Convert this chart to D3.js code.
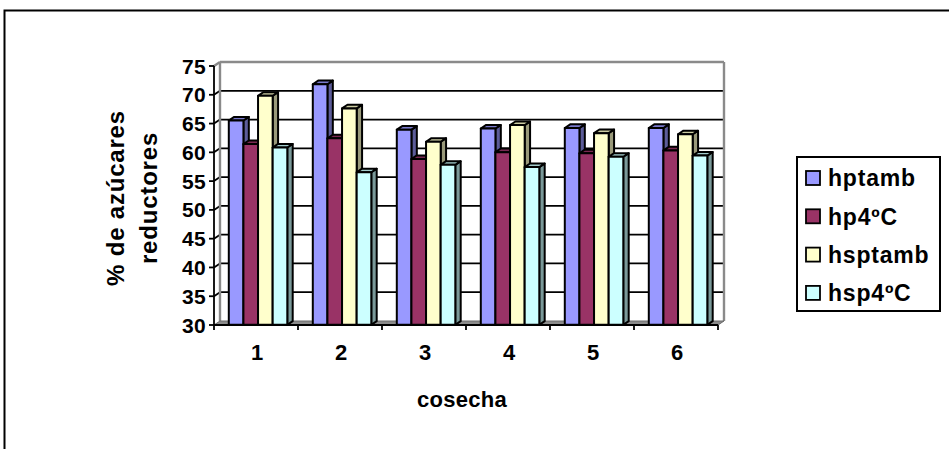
<!DOCTYPE html>
<html>
<head>
<meta charset="utf-8">
<script src="https://cdnjs.cloudflare.com/ajax/libs/d3/7.8.5/d3.min.js"></script>
<style>
  body { margin: 0; background: #fff; }
  svg { display: block; }
  text { font-family: Arial, "Liberation Sans", sans-serif; font-weight: bold; fill: #000; }
</style>
</head>
<body>
<svg id="chart" width="949" height="449"></svg>
<script>
// Harvest categories and the four treatment series (% reducing sugars)
const categories = ["1", "2", "3", "4", "5", "6"];
const seriesNames = ["hptamb", "hp4ºC", "hsptamb", "hsp4ºC"];
const hptamb  = [65.5, 71.8, 63.9, 64.1, 64.2, 64.2];
const hp4C    = [61.4, 62.4, 58.8, 60.0, 59.8, 60.3];
const hsptamb = [69.8, 67.6, 61.8, 64.7, 63.3, 63.1];
const hsp4C   = [60.8, 56.5, 57.8, 57.4, 59.2, 59.4];
const yTicks  = [30, 35, 40, 45, 50, 55, 60, 65, 70, 75];
const seriesColors = ["#9999FF", "#993366", "#FFFFCC", "#CCFFFF"];

const seriesValues = [hptamb, hp4C, hsptamb, hsp4C];

const svg = d3.select("#chart");

// outer chart frame
svg.append("rect")
  .attr("x", 4.5).attr("y", 10.5)
  .attr("width", 1000).attr("height", 500)
  .attr("fill", "#fff").attr("stroke", "#000").attr("stroke-width", 2);

// front-plane scales
const x = d3.scaleBand().domain(categories).range([214, 718]);
const y = d3.scaleLinear().domain([30, 75]).range([325, 66]);
const xs = d3.scaleBand().domain(seriesNames).range([14.5, 73]);

// depth vector of the 3D box
const DX = 6, DY = -4;
const P = (px, v, d) => [px + DX * d, y(v) + DY * d];
const poly = pts => "M" + pts.map(p => p.join(",")).join("L") + "Z";

const x0 = x.range()[0], x1 = x.range()[1];
const vMin = y.domain()[0], vMax = y.domain()[1];

// back wall
svg.append("path")
  .attr("d", poly([P(x0, vMin, 1), P(x1, vMin, 1), P(x1, vMax, 1), P(x0, vMax, 1)]))
  .attr("fill", "#fff").attr("stroke", "none");

// left side wall
svg.append("path")
  .attr("d", poly([P(x0, vMin, 0), P(x0, vMin, 1), P(x0, vMax, 1), P(x0, vMax, 0)]))
  .attr("fill", "#fff").attr("stroke", "none");

// gridlines on back wall and side wall
const grid = svg.append("g");
yTicks.filter(t => t > vMin && t < vMax).forEach(t => {
  const a = P(x0, t, 1), b = P(x1, t, 1), c = P(x0, t, 0);
  grid.append("line").attr("x1", a[0]).attr("y1", a[1]).attr("x2", b[0]).attr("y2", b[1])
    .attr("stroke", "#000").attr("stroke-width", 1.8);
  grid.append("line").attr("x1", c[0]).attr("y1", c[1]).attr("x2", a[0]).attr("y2", a[1])
    .attr("stroke", "#000").attr("stroke-width", 1.8);
});

// wall edges (gray)
const edges = [
  [P(x0, vMax, 0), P(x0, vMax, 1)],
  [P(x0, vMax, 1), P(x1, vMax, 1)],
  [P(x0, vMax, 1), P(x0, vMin, 1)],
  [P(x1, vMax, 1), P(x1, vMin, 1)]
];
edges.forEach(([a, b]) => {
  svg.append("line").attr("x1", a[0]).attr("y1", a[1]).attr("x2", b[0]).attr("y2", b[1])
    .attr("stroke", "#8a8a8a").attr("stroke-width", 2.4);
});

// floor
svg.append("path")
  .attr("d", poly([P(x0, vMin, 0), P(x1, vMin, 0), P(x1, vMin, 1), P(x0, vMin, 1)]))
  .attr("fill", "#8c8c8c").attr("stroke", "#6a6a6a").attr("stroke-width", 1);

// 3D bars
const shade = (c, k) => { const h = d3.rgb(c); return d3.rgb(h.r * k, h.g * k, h.b * k).formatHex(); };
const dFront = 0.05, dBack = 0.95;
const bars = svg.append("g");
categories.forEach((cat, ci) => {
  seriesNames.forEach((s, si) => {
    const v = seriesValues[si][ci];
    const L = x(cat) + xs(s), R = L + xs.bandwidth();
    const col = seriesColors[si];
    const g = bars.append("g").attr("stroke", "#000").attr("stroke-width", 2).attr("stroke-linejoin", "round");
    // right side face
    g.append("path").attr("d", poly([P(R, vMin, dFront), P(R, vMin, dBack), P(R, v, dBack), P(R, v, dFront)]))
      .attr("fill", shade(col, 0.6));
    // top face
    g.append("path").attr("d", poly([P(L, v, dFront), P(R, v, dFront), P(R, v, dBack), P(L, v, dBack)]))
      .attr("fill", shade(col, 0.8));
    // front face
    g.append("path").attr("d", poly([P(L, vMin, dFront), P(R, vMin, dFront), P(R, v, dFront), P(L, v, dFront)]))
      .attr("fill", col);
  });
});

// value axis (front)
svg.append("line").attr("x1", x0).attr("y1", y(vMin)).attr("x2", x0).attr("y2", y(vMax))
  .attr("stroke", "#000").attr("stroke-width", 1.8);
const yAxis = svg.append("g");
yTicks.forEach(t => {
  yAxis.append("line").attr("x1", x0 - 5).attr("x2", x0).attr("y1", y(t)).attr("y2", y(t))
    .attr("stroke", "#000").attr("stroke-width", 1.8);
  yAxis.append("text").attr("x", x0 - 8).attr("y", y(t)).attr("dy", "0.36em")
    .attr("text-anchor", "end").attr("font-size", 21).attr("letter-spacing", 0.3).text(t);
});

// category axis (front)
svg.append("line").attr("x1", x0).attr("y1", y(vMin)).attr("x2", x1).attr("y2", y(vMin))
  .attr("stroke", "#000").attr("stroke-width", 1.8);
const xAxis = svg.append("g");
categories.concat([null]).forEach(c => {
  const px = c === null ? x1 : x(c);
  xAxis.append("line").attr("x1", px).attr("x2", px).attr("y1", y(vMin)).attr("y2", y(vMin) + 5)
    .attr("stroke", "#000").attr("stroke-width", 1.8);
});
categories.forEach(c => {
  xAxis.append("text").attr("x", x(c) + x.bandwidth() / 2 + 1).attr("y", 352).attr("dy", "0.36em")
    .attr("text-anchor", "middle").attr("font-size", 22).text(c);
});

// axis titles
svg.append("text").attr("x", 462).attr("y", 407).attr("text-anchor", "middle")
  .attr("font-size", 22).attr("letter-spacing", 0.3).text("cosecha");
const yt = svg.append("text").attr("transform", "translate(131,198) rotate(-90)")
  .attr("text-anchor", "middle").attr("font-size", 24).attr("letter-spacing", 0.8);
yt.append("tspan").attr("x", 0).attr("y", -7).text("% de azúcares");
yt.append("tspan").attr("x", 0).attr("y", 26).text("reductores");

// legend
const legend = svg.append("g");
legend.append("rect").attr("x", 797).attr("y", 157).attr("width", 143).attr("height", 154)
  .attr("fill", "#fff").attr("stroke", "#000").attr("stroke-width", 2);
seriesNames.forEach((s, i) => {
  const cy = 178 + i * 38.3;
  legend.append("rect").attr("x", 806).attr("y", cy - 7).attr("width", 14).attr("height", 14)
    .attr("fill", seriesColors[i]).attr("stroke", "#000").attr("stroke-width", 1.8);
  legend.append("text").attr("x", 828).attr("y", cy).attr("dy", "0.36em")
    .attr("font-size", 23).attr("letter-spacing", 0.8).text(s);
});
</script>
</body>
</html>
